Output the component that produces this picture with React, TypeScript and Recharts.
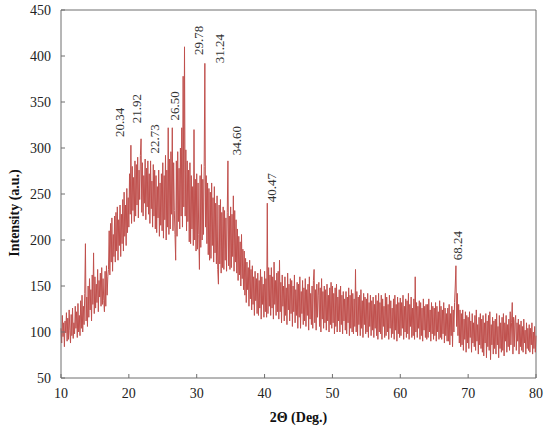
import { LineChart, Line, XAxis, YAxis, ReferenceLine, ReferenceDot } from "recharts";

const START = 10;
const STEP = 0.1;

// intensity, one row per degree (x.0, x.1 ... x.9)
const intensity = [
  104, 88, 118, 95, 110, 84, 112, 99, 121, 90, // 10
  115, 92, 124, 102, 88, 119, 96, 126, 93, 110, // 11
  98, 128, 104, 122, 94, 131, 100, 118, 96, 134, // 12
  104, 140, 100, 128, 108, 142, 196, 112, 138, 106, // 13
  150, 116, 158, 124, 146, 112, 162, 130, 186, 120, // 14
  160, 126, 152, 132, 168, 122, 156, 138, 164, 128, // 15
  170, 130, 158, 134, 122, 166, 128, 172, 140, 160, // 16
  168, 210, 162, 218, 176, 224, 166, 206, 182, 226, // 17
  176, 230, 188, 236, 178, 222, 194, 238, 182, 228, // 18
  196, 244, 188, 252, 204, 238, 194, 256, 208, 246, // 19
  214, 272, 228, 303, 218, 280, 232, 268, 220, 286, // 20
  226, 282, 238, 290, 224, 276, 244, 292, 310, 230, // 21
  284, 226, 270, 240, 288, 222, 278, 236, 286, 228, // 22
  272, 218, 286, 234, 264, 214, 282, 226, 276, 212, // 23
  270, 208, 258, 224, 276, 204, 262, 216, 272, 210, // 24
  284, 202, 270, 222, 292, 200, 276, 214, 322, 206, // 25
  288, 212, 296, 228, 322, 210, 284, 232, 206, 178, // 26
  286, 204, 296, 220, 278, 212, 300, 226, 322, 214, // 27
  378, 236, 410, 226, 298, 210, 286, 220, 276, 198, // 28
  284, 196, 270, 212, 258, 194, 320, 200, 266, 188, // 29
  272, 190, 262, 206, 168, 270, 192, 282, 200, 266, // 30
  206, 280, 392, 214, 270, 196, 262, 184, 256, 178, // 31
  252, 180, 262, 194, 246, 176, 258, 186, 240, 174, // 32
  248, 168, 152, 238, 174, 244, 164, 230, 170, 236, // 33
  168, 232, 178, 224, 166, 230, 286, 172, 226, 168, // 34
  236, 170, 228, 182, 248, 166, 232, 176, 222, 164, // 35
  212, 156, 204, 162, 198, 150, 206, 158, 190, 146, // 36
  188, 140, 180, 132, 176, 146, 170, 128, 178, 136, // 37
  168, 124, 172, 130, 160, 118, 166, 134, 158, 120, // 38
  164, 118, 156, 126, 168, 114, 160, 130, 152, 116, // 39
  166, 122, 158, 116, 240, 120, 170, 128, 162, 118, // 40
  170, 126, 160, 114, 176, 130, 156, 118, 164, 122, // 41
  166, 114, 178, 122, 154, 110, 162, 128, 150, 112, // 42
  160, 118, 148, 108, 164, 124, 152, 112, 158, 120, // 43
  156, 106, 150, 122, 162, 110, 146, 118, 154, 104, // 44
  152, 116, 160, 104, 144, 120, 156, 108, 148, 112, // 45
  158, 106, 146, 118, 152, 102, 160, 114, 142, 108, // 46
  150, 104, 156, 168, 110, 146, 102, 152, 116, 140, // 47
  154, 106, 148, 100, 158, 114, 144, 104, 150, 110, // 48
  146, 102, 152, 112, 140, 100, 148, 108, 154, 104, // 49
  150, 110, 142, 98, 148, 106, 152, 100, 138, 112, // 50
  146, 100, 150, 108, 140, 98, 144, 112, 136, 102, // 51
  144, 98, 138, 110, 148, 96, 140, 104, 146, 100, // 52
  142, 98, 136, 106, 168, 100, 144, 96, 138, 108, // 53
  140, 96, 146, 104, 134, 94, 142, 108, 138, 98, // 54
  136, 100, 142, 94, 132, 106, 140, 96, 134, 102, // 55
  138, 94, 130, 104, 140, 96, 134, 92, 142, 100, // 56
  132, 98, 140, 92, 136, 106, 128, 94, 142, 96, // 57
  138, 100, 130, 92, 140, 104, 134, 94, 126, 98, // 58
  136, 92, 140, 102, 130, 90, 138, 98, 132, 94, // 59
  137, 96, 132, 104, 140, 92, 128, 100, 136, 94, // 60
  134, 98, 142, 92, 130, 106, 138, 94, 126, 96, // 61
  136, 92, 160, 100, 132, 94, 128, 104, 134, 92, // 62
  132, 96, 126, 90, 136, 102, 128, 94, 130, 92, // 63
  130, 94, 136, 100, 124, 90, 132, 98, 128, 92, // 64
  126, 96, 132, 90, 128, 100, 122, 92, 134, 94, // 65
  128, 92, 124, 98, 132, 88, 126, 96, 120, 90, // 66
  126, 90, 130, 86, 120, 96, 128, 84, 124, 100, // 67
  132, 150, 172, 106, 142, 96, 130, 88, 124, 84, // 68
  120, 86, 124, 80, 114, 92, 122, 78, 118, 88, // 69
  116, 82, 122, 94, 112, 78, 120, 88, 110, 84, // 70
  118, 80, 124, 90, 108, 76, 116, 86, 120, 82, // 71
  114, 78, 118, 74, 110, 88, 120, 72, 112, 84, // 72
  118, 80, 122, 70, 108, 86, 116, 76, 112, 82, // 73
  114, 76, 120, 86, 106, 72, 118, 82, 110, 78, // 74
  116, 80, 120, 74, 110, 90, 118, 78, 108, 84, // 75
  114, 80, 122, 86, 110, 132, 76, 116, 84, 112, // 76
  118, 80, 110, 90, 114, 76, 108, 84, 112, 80, // 77
  106, 78, 114, 88, 102, 76, 110, 82, 104, 80, // 78
  108, 78, 104, 86, 110, 76, 100, 82, 106, 78, // 79
  96, // 80
];

const xTicks = [10, 20, 30, 40, 50, 60, 70, 80];
const yTicks = [50, 100, 150, 200, 250, 300, 350, 400, 450];

// peak annotations: text, angle where the label stands, intensity at its foot
const peakText = ["20.34", "21.92", "22.73", "26.50", "29.78", "31.24", "34.60", "40.47", "68.24"];
const peakAngle = [18.55, 21.2, 23.85, 26.8, 30.2, 33.3, 35.8, 40.95, 68.5];
const peakLevel = [312, 327, 294, 330, 401, 392, 292, 241, 178];

const RED = "#C0504D";
const AXIS = "#6e6e6e";
const FONT = "'Liberation Serif', 'Times New Roman', serif";

const data = intensity.map((v, i) => ({ angle: +(START + i * STEP).toFixed(1), value: v }));

const XTick = ({ x, y, payload }: any) => (
  <g>
    <line x1={x} y1={y} x2={x} y2={y - 4} stroke={AXIS} />
    <text x={x} y={y + 20} textAnchor="middle" fontFamily={FONT} fontSize={14} fill="#222">
      {payload.value}
    </text>
  </g>
);

const YTick = ({ x, y, payload }: any) => (
  <g>
    <line x1={x} y1={y} x2={x + 4} y2={y} stroke={AXIS} />
    <text x={x - 10} y={y + 5} textAnchor="end" fontFamily={FONT} fontSize={14} fill="#222">
      {payload.value}
    </text>
  </g>
);

export default function App() {
  return (
    <div style={{ position: "absolute", left: 0, top: 0, background: "#fff" }}>
      <LineChart width={550} height={431} data={data} margin={{ top: 10, right: 14, bottom: 0, left: 0 }}>
        <XAxis
          dataKey="angle"
          type="number"
          domain={[10, 80]}
          ticks={xTicks}
          tickSize={0}
          tickMargin={0}
          tickLine={false}
          tick={<XTick />}
          height={53}
          stroke={AXIS}
          label={{
            content: ({ viewBox }: any) => (
              <text
                x={viewBox.x + viewBox.width / 2}
                y={viewBox.y + 44}
                textAnchor="middle"
                fontFamily={FONT}
                fontSize={14}
                fontWeight="bold"
                fill="#111"
              >
                2Θ (Deg.)
              </text>
            ),
          }}
        />
        <YAxis
          type="number"
          domain={[50, 450]}
          ticks={yTicks}
          tickSize={0}
          tickMargin={0}
          tickLine={false}
          tick={<YTick />}
          width={61}
          stroke={AXIS}
          label={{
            content: ({ viewBox }: any) => {
              const cx = viewBox.x + 19;
              const cy = viewBox.y + viewBox.height / 2 + 19;
              return (
                <text
                  x={cx}
                  y={cy}
                  transform={`rotate(-90 ${cx} ${cy})`}
                  textAnchor="middle"
                  fontFamily={FONT}
                  fontSize={14}
                  fontWeight="bold"
                  fill="#111"
                >
                  Intensity (a.u.)
                </text>
              );
            },
          }}
        />
        <ReferenceLine y={450} stroke={AXIS} />
        <ReferenceLine x={80} stroke={AXIS} />
        <Line
          dataKey="value"
          type="linear"
          stroke={RED}
          strokeWidth={1}
          dot={false}
          isAnimationActive={false}
        />
        {peakText.map((t, i) => (
          <ReferenceDot
            key={t}
            x={peakAngle[i]}
            y={peakLevel[i]}
            r={0}
            shape={(p: any) => (
              <text
                x={p.cx}
                y={p.cy}
                transform={`rotate(-90 ${p.cx} ${p.cy})`}
                dominantBaseline="central"
                fontFamily={FONT}
                fontSize={13}
                fill="#333"
              >
                {t}
              </text>
            )}
          />
        ))}
      </LineChart>
    </div>
  );
}
